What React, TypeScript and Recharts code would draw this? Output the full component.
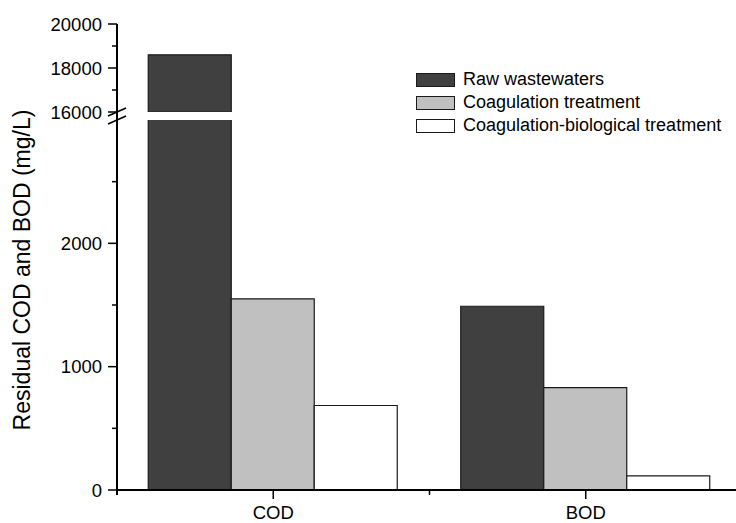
import React from 'react';
import { BarChart, Bar, XAxis, YAxis } from 'recharts';

const categories = ['COD', 'BOD'];
const rawWastewaters = [18600, 1490];
const coagulationTreatment = [1550, 830];
const coagBiologicalTreatment = [685, 115];

const seriesKeys = ['raw', 'coag', 'bio'];
const seriesNames = ['Raw wastewaters', 'Coagulation treatment', 'Coagulation-biological treatment'];
const seriesColors = ['#404040', '#c0c0c0', '#ffffff'];

const lowerDomain: [number, number] = [0, 3000];
const lowerTicks = [0, 500, 1000, 1500, 2000, 2500, 3000];
const lowerLabels = [0, 1000, 2000];
const upperDomain: [number, number] = [16000, 20000];
const upperTicks = [16000, 17000, 18000, 19000, 20000];
const upperLabels = [16000, 18000, 20000];

const seriesValues = [rawWastewaters, coagulationTreatment, coagBiologicalTreatment];

const lowerData = categories.map((c, i) => {
  const row: any = { category: c };
  seriesKeys.forEach((k, s) => (row[k] = seriesValues[s][i]));
  return row;
});
const upperData = categories.map((c, i) => {
  const row: any = { category: c };
  seriesKeys.forEach((k, s) => {
    const v = seriesValues[s][i];
    row[k] = v > upperDomain[0] ? v : null;
  });
  return row;
});

const FONT = '"Liberation Sans", Arial, Helvetica, sans-serif';
const W = 742;
const H = 523;
const Y_W = 117;
const TS = 9;
const TM = 6;
const XTS = 9;
const XTM = 7;
const GAP = 8;

const YTick = (props: any) => {
  const { x, y, payload, labels, breakAt, breakDir } = props;
  const axisX = x + TS + TM;
  const v = payload.value;
  const isBreak = v === breakAt;
  const major = labels.includes(v);
  return (
    <g>
      {isBreak && (
        <line x1={axisX - 9} y1={y + 4} x2={axisX + 9} y2={y - 4} stroke="#000" strokeWidth={1.5} />
      )}
      {isBreak && breakDir > 0 && (
        <line x1={axisX} y1={y} x2={axisX} y2={y + GAP} stroke="#000" strokeWidth={2} />
      )}
      {v === 0 && <line x1={axisX} y1={y} x2={axisX} y2={y + 5} stroke="#000" strokeWidth={2} />}
      {(major || !isBreak) && (
        <line x1={axisX - (major ? 9 : 5)} y1={y} x2={axisX} y2={y} stroke="#000" strokeWidth={1.5} />
      )}
      {major && (
        <text x={x} y={y} dy="0.36em" textAnchor="end" fontFamily={FONT} fontSize={18.5} fill="#000">
          {v}
        </text>
      )}
    </g>
  );
};

const XTick = (props: any) => {
  const { x, y, payload, index, width, visibleTicksCount } = props;
  const axisY = y - XTS - XTM;
  const count = visibleTicksCount || categories.length;
  const band = typeof width === 'number' ? width / count : (payload.offset || 0) * 2;
  return (
    <g>
      <line x1={x} y1={axisY} x2={x} y2={axisY + 9} stroke="#000" strokeWidth={1.5} />
      {index < count - 1 && (
        <line x1={x + band / 2} y1={axisY} x2={x + band / 2} y2={axisY + 5} stroke="#000" strokeWidth={1.5} />
      )}
      <text x={x} y={y} dy="0.71em" textAnchor="middle" fontFamily={FONT} fontSize={18.5} fill="#000">
        {payload.value}
      </text>
    </g>
  );
};

const YLabel = () => {
  const cx = 29.5;
  const cy = 270;
  return (
    <text
      x={cx}
      y={cy}
      transform={`rotate(-90, ${cx}, ${cy})`}
      textAnchor="middle"
      fontFamily={FONT}
      fontSize={23}
      fill="#000"
    >
      Residual COD and BOD (mg/L)
    </text>
  );
};

const bars = () =>
  seriesKeys.map((k, s) => (
    <Bar
      key={k}
      dataKey={k}
      name={seriesNames[s]}
      fill={seriesColors[s]}
      stroke="#1a1a1a"
      strokeWidth={1.2}
      isAnimationActive={false}
    />
  ));

export default function App() {
  return (
    <div
      style={{
        position: 'absolute',
        left: 0,
        top: 0,
        width: 736,
        height: 523,
        overflow: 'hidden',
        background: '#fff',
        fontFamily: FONT,
      }}
    >
      <div style={{ position: 'absolute', left: 0, top: 0 }}>
        <BarChart
          width={W}
          height={H}
          data={lowerData}
          margin={{ top: 120, right: 0, bottom: 3, left: 0 }}
          barCategoryGap="10%"
          barGap={0}
        >
          <XAxis
            dataKey="category"
            height={30}
            axisLine={{ stroke: '#000', strokeWidth: 2 }}
            tickLine={false}
            tickSize={XTS}
            tickMargin={XTM}
            interval={0}
            tick={(p: any) => <XTick {...p} />}
          />
          <YAxis
            width={Y_W}
            domain={lowerDomain}
            ticks={lowerTicks}
            interval={0}
            allowDataOverflow
            axisLine={{ stroke: '#000', strokeWidth: 2 }}
            tickLine={false}
            tickSize={TS}
            tickMargin={TM}
            tick={(p: any) => <YTick {...p} labels={lowerLabels} breakAt={lowerDomain[1]} breakDir={-1} />}
            label={() => <YLabel />}
          />
          {bars()}
        </BarChart>
      </div>
      <div style={{ position: 'absolute', left: 0, top: 0 }}>
        <BarChart
          width={W}
          height={H}
          data={upperData}
          margin={{ top: 24, right: 0, bottom: H - 112, left: 0 }}
          barCategoryGap="10%"
          barGap={0}
        >
          <XAxis dataKey="category" hide />
          <YAxis
            width={Y_W}
            domain={upperDomain}
            ticks={upperTicks}
            interval={0}
            allowDataOverflow
            axisLine={{ stroke: '#000', strokeWidth: 2 }}
            tickLine={false}
            tickSize={TS}
            tickMargin={TM}
            tick={(p: any) => <YTick {...p} labels={upperLabels} breakAt={upperDomain[0]} breakDir={1} />}
          />
          {bars()}
        </BarChart>
      </div>
      <div style={{ position: 'absolute', left: 416, top: 68 }}>
        {seriesNames.map((n, s) => (
          <div key={n} style={{ display: 'flex', alignItems: 'center', height: 23 }}>
            <div
              style={{
                width: 37,
                height: 12,
                background: seriesColors[s],
                border: '1px solid #1a1a1a',
                marginRight: 8,
              }}
            />
            <span style={{ fontSize: 18, color: '#000', fontFamily: FONT, whiteSpace: 'nowrap' }}>{n}</span>
          </div>
        ))}
      </div>
    </div>
  );
}
